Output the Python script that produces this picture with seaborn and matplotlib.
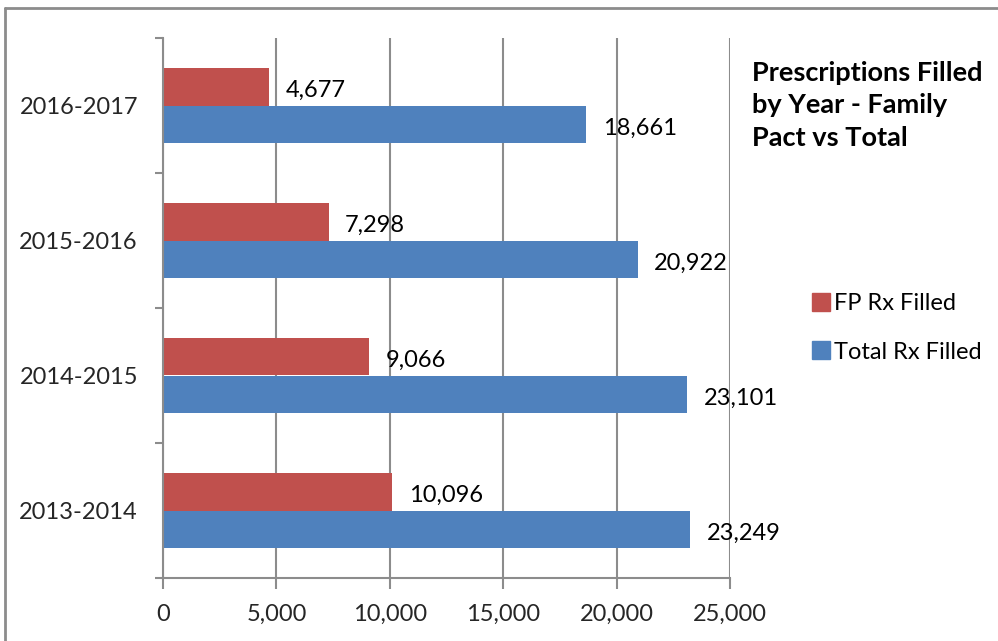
import matplotlib
matplotlib.use("Agg")
import matplotlib.pyplot as plt
import seaborn as sns
import pandas as pd
from matplotlib.lines import Line2D
from matplotlib.ticker import FuncFormatter

# -----------------------------
# Data
# -----------------------------
years = ["2016-2017", "2015-2016", "2014-2015", "2013-2014"]
fp_rx = [4677, 7298, 9066, 10096]
total_rx = [18661, 20922, 23101, 23249]
series = ["FP Rx Filled", "Total Rx Filled"]
x_ticks = [0, 5000, 10000, 15000, 20000, 25000]

df = pd.DataFrame({
    "Year": years * 2,
    "Count": fp_rx + total_rx,
    "Series": [series[0]] * len(years) + [series[1]] * len(years),
})

# -----------------------------
# Style
# -----------------------------
sns.set_theme(style="white")
plt.rcParams["font.family"] = ["Lato", "DejaVu Sans"]
plt.rcParams["text.color"] = "black"

palette = {"FP Rx Filled": "#C0504D", "Total Rx Filled": "#4F81BD"}
grid_col = "#8c8c8c"
fs = 17

fig = plt.figure(figsize=(9.98, 6.41), dpi=100)
ax = fig.add_axes([163 / 998, 1 - 578 / 641, (730 - 163) / 998, (578 - 38) / 641])

sns.barplot(data=df, y="Year", x="Count", hue="Series", order=years,
            hue_order=series, palette=palette, orient="h", width=0.56,
            saturation=1, linewidth=0, ax=ax, legend=False)

ax.set_xlim(0, 25000)
ax.set_ylim(3.5, -0.5)
ax.set_xticks(x_ticks)
ax.xaxis.set_major_formatter(FuncFormatter(lambda v, p: f"{int(v):,}"))
ax.set_xlabel("")
ax.set_ylabel("")

# gridlines + axes
ax.xaxis.grid(True, color=grid_col, linewidth=1.5)
ax.set_axisbelow(True)
for s in ["top", "right"]:
    ax.spines[s].set_visible(False)
for s in ["left", "bottom"]:
    ax.spines[s].set_color(grid_col)
    ax.spines[s].set_linewidth(1.5)

ax.tick_params(axis="x", direction="out", length=8, width=1.5, color=grid_col,
               labelsize=fs, pad=10.5, bottom=True)
ax.tick_params(axis="y", which="major", length=0, labelsize=fs, pad=18)
ax.set_yticks([-0.5, 0.5, 1.5, 2.5, 3.5], minor=True)
ax.tick_params(axis="y", which="minor", direction="out", length=6, width=1.5,
               color=grid_col, left=True)

# data labels (outside end, a touch below centre like Excel)
for cont in ax.containers:
    for bar, v in zip(cont.patches, cont.datavalues):
        ax.annotate(f"{int(v):,}", (bar.get_x() + bar.get_width(), bar.get_y() + bar.get_height() / 2),
                    xytext=(12, -3), textcoords="offset points",
                    ha="left", va="center", fontsize=fs)

# title
fig.text(752 / 998, 1 - 61 / 641, "Prescriptions Filled\nby Year - Family\nPact vs Total",
         fontsize=19.5, fontweight="bold", ha="left", va="top", linespacing=1.42)

# legend
handles = [Line2D([], [], marker="s", linestyle="", markersize=13,
                  markerfacecolor=palette[s], markeredgecolor=palette[s]) for s in series]
fig.legend(handles, series, loc="center left", bbox_to_anchor=(797 / 998, 1 - 328 / 641),
           frameon=False, fontsize=fs, handletextpad=0.05, labelspacing=1.15,
           handlelength=1.0, borderpad=0)

# outer chart border (left + top)
fig.add_artist(Line2D([5 / 998, 5 / 998], [0, 1 - 8 / 641], transform=fig.transFigure,
                      color=grid_col, linewidth=2))
fig.add_artist(Line2D([5 / 998, 1], [1 - 8 / 641, 1 - 8 / 641], transform=fig.transFigure,
                      color=grid_col, linewidth=2))

fig.savefig("out.png", dpi=100)
plt.close()
